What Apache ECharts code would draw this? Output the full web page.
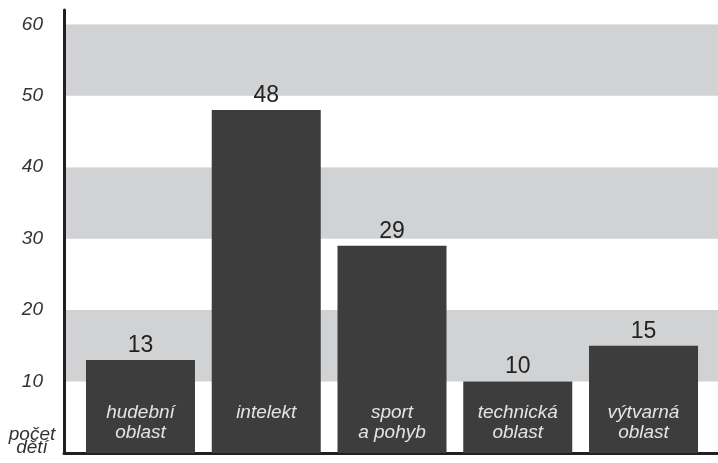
<!DOCTYPE html>
<html>
<head>
<meta charset="utf-8">
<style>
  html, body { margin: 0; padding: 0; background: #ffffff; }
  #chart { width: 718px; height: 463px; }
</style>
<script src="https://cdn.jsdelivr.net/npm/echarts@6/dist/echarts.min.js"></script>
</head>
<body>
<div id="chart"></div>
<script>
// Oblasti zájmu dětí
const categories = ['hudební\noblast', 'intelekt', 'sport\na pohyb', 'technická\noblast', 'výtvarná\noblast'];
const counts = [13, 48, 29, 10, 15];
const yTicks = [0, 10, 20, 30, 40, 50, 60];
const yAxisTitle = 'počet\ndětí';

const FONT = '"Liberation Sans", Arial, Helvetica, sans-serif';
const Y_MIN = 0;
const Y_MAX = 62;
const Y_STEP = yTicks[1] - yTicks[0];

const chart = echarts.init(document.getElementById('chart'), null, { renderer: 'canvas' });

const option = {
  animation: false,
  backgroundColor: '#ffffff',
  grid: [
    // background frame with bands and axes
    { left: 64, right: 0, top: 10, bottom: 10, containLabel: false },
    // bars
    { left: 77.6, right: 11.6, top: 10, bottom: 10, containLabel: false }
  ],
  xAxis: [
    {
      gridIndex: 0,
      type: 'value',
      min: 0,
      max: 1,
      axisLine: { show: true, onZero: false, lineStyle: { color: '#231f20', width: 3 } },
      axisTick: { show: false },
      axisLabel: { show: false },
      splitLine: { show: false }
    },
    {
      gridIndex: 1,
      type: 'category',
      data: categories,
      axisLine: { show: false },
      axisTick: { show: false },
      axisLabel: {
        inside: true,
        margin: 50,
        verticalAlign: 'top',
        color: '#e4e4e4',
        fontFamily: FONT,
        fontStyle: 'italic',
        fontSize: 19,
        lineHeight: 20,
        interval: 0
      },
      z: 10
    }
  ],
  yAxis: [
    {
      gridIndex: 0,
      type: 'value',
      min: Y_MIN,
      max: Y_MAX,
      interval: Y_STEP,
      axisLine: { show: true, onZero: false, lineStyle: { color: '#231f20', width: 3 } },
      axisTick: { show: false },
      axisLabel: {
        margin: 21,
        color: '#333333',
        fontFamily: FONT,
        fontStyle: 'italic',
        fontSize: 19,
        showMaxLabel: false,
        formatter: function (v) {
          return (v > 0 && yTicks.indexOf(v) >= 0) ? String(v) : '';
        }
      },
      splitLine: { show: false },
      splitArea: { show: true, areaStyle: { color: ['#ffffff', '#d1d2d4'] } }
    },
    {
      gridIndex: 1,
      type: 'value',
      min: Y_MIN,
      max: Y_MAX,
      interval: Y_STEP,
      show: false
    }
  ],
  graphic: [
    {
      type: 'text',
      x: 32,
      y: 428,
      style: {
        text: yAxisTitle,
        fill: '#333333',
        font: 'italic 19px ' + FONT,
        align: 'center',
        verticalAlign: 'top',
        lineHeight: 13
      }
    }
  ],
  series: [
    {
      type: 'bar',
      xAxisIndex: 1,
      yAxisIndex: 1,
      data: counts,
      barWidth: 109,
      itemStyle: { color: '#3d3d3d' },
      label: {
        show: true,
        position: 'top',
        distance: 3,
        color: '#222222',
        fontFamily: FONT,
        fontSize: 23
      },
      z: 5
    }
  ]
};

chart.setOption(option);
</script>
</body>
</html>
